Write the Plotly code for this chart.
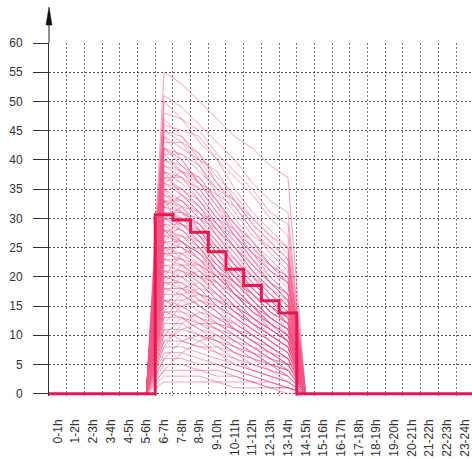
import plotly.graph_objects as go

hour_labels = ["0-1h", "1-2h", "2-3h", "3-4h", "4-5h", "5-6h", "6-7h", "7-8h", "8-9h",
               "9-10h", "10-11h", "11-12h", "12-13h", "13-14h", "14-15h", "15-16h",
               "16-17h", "17-18h", "18-19h", "19-20h", "20-21h", "21-22h", "22-23h", "23-24h"]

# mean profile (bold step line), one value per hour slot
mean_values = [0, 0, 0, 0, 0, 0, 30.6, 29.7, 27.6, 24.3, 21.3, 18.5, 15.9, 13.8,
               0, 0, 0, 0, 0, 0, 0, 0, 0, 0]

# individual profiles: values for slots 6-7h ... 13-14h (all other slots are 0)
active_start = 6
profiles = [
    [55, 53, 50, 47, 44, 42, 39, 37],
    [51, 49, 46, 43, 40, 36, 33, 31],
    [50, 47, 45, 41, 38, 35, 31, 29],
    [48, 47, 43, 40, 37, 34, 30, 27],
    [46, 45, 44, 40, 35, 31, 28, 25],
    [45, 44, 41, 37, 34, 30, 27, 24],
    [44, 42, 40, 38, 33, 29, 26, 23],
    [43, 43, 41, 36, 32, 28, 24, 21],
    [42, 41, 38, 35, 31, 27, 25, 22],
    [42, 40, 36, 32, 29, 26, 22, 19],
    [41, 41, 39, 34, 30, 26, 23, 20],
    [40, 39, 36, 33, 28, 24, 21, 18],
    [40, 38, 35, 31, 27, 23, 20, 17],
    [39, 38, 37, 33, 29, 25, 21, 19],
    [38, 37, 34, 30, 26, 23, 19, 16],
    [38, 36, 33, 29, 25, 21, 18, 15],
    [37, 37, 35, 31, 28, 24, 20, 17],
    [37, 35, 32, 28, 24, 20, 17, 14],
    [36, 35, 33, 29, 25, 22, 19, 16],
    [36, 34, 31, 27, 23, 20, 16, 13],
    [35, 35, 32, 28, 25, 21, 17, 15],
    [35, 33, 30, 26, 22, 19, 16, 13],
    [34, 33, 31, 27, 24, 21, 18, 15],
    [34, 32, 29, 25, 21, 18, 15, 12],
    [33, 33, 30, 27, 23, 19, 16, 14],
    [33, 32, 28, 24, 21, 17, 14, 12],
    [33, 31, 29, 26, 22, 20, 17, 14],
    [32, 31, 28, 24, 20, 17, 15, 12],
    [32, 30, 27, 23, 20, 16, 13, 11],
    [31, 31, 29, 25, 22, 18, 15, 13],
    [31, 30, 27, 23, 19, 16, 13, 10],
    [31, 29, 26, 22, 19, 17, 14, 12],
    [30, 30, 28, 24, 21, 18, 15, 13],
    [30, 29, 26, 22, 18, 15, 12, 10],
    [30, 28, 25, 21, 19, 16, 13, 11],
    [29, 29, 27, 23, 20, 17, 14, 12],
    [29, 28, 25, 21, 17, 14, 12, 9],
    [28, 28, 26, 23, 19, 16, 13, 11],
    [28, 27, 24, 20, 17, 15, 12, 10],
    [28, 26, 23, 20, 18, 15, 11, 9],
    [27, 27, 25, 21, 18, 15, 12, 10],
    [27, 26, 23, 19, 16, 13, 11, 9],
    [26, 26, 24, 21, 17, 14, 12, 10],
    [26, 25, 22, 18, 15, 13, 10, 8],
    [25, 25, 23, 20, 17, 14, 11, 9],
    [25, 24, 21, 18, 15, 12, 10, 8],
    [24, 24, 22, 19, 16, 13, 11, 9],
    [24, 23, 20, 17, 14, 12, 9, 7],
    [23, 23, 21, 18, 15, 12, 10, 8],
    [23, 22, 19, 16, 14, 11, 9, 7],
    [22, 22, 20, 17, 14, 12, 10, 8],
    [22, 21, 18, 15, 13, 10, 8, 6],
    [21, 21, 19, 16, 13, 11, 9, 7],
    [21, 20, 17, 15, 12, 10, 8, 6],
    [20, 20, 18, 15, 13, 11, 9, 7],
    [20, 19, 16, 14, 11, 9, 7, 5],
    [19, 19, 17, 14, 12, 10, 8, 6],
    [19, 18, 15, 13, 11, 9, 7, 5],
    [18, 18, 16, 14, 11, 9, 7, 6],
    [18, 17, 15, 12, 10, 8, 6, 5],
    [17, 17, 15, 13, 11, 9, 7, 5],
    [16, 16, 14, 12, 10, 8, 6, 4],
    [16, 15, 13, 11, 9, 7, 6, 4],
    [15, 15, 13, 11, 9, 7, 5, 4],
    [14, 14, 12, 10, 8, 7, 5, 3],
    [14, 13, 11, 10, 8, 6, 5, 3],
    [13, 13, 11, 9, 7, 6, 4, 3],
    [12, 12, 10, 9, 7, 5, 4, 3],
    [11, 11, 10, 8, 6, 5, 4, 2],
    [10, 10, 9, 7, 6, 4, 3, 2],
    [9, 9, 8, 7, 5, 4, 3, 2],
    [8, 8, 7, 6, 5, 4, 3, 2],
    [7, 7, 6, 5, 4, 3, 2, 1],
    [6, 6, 5, 5, 4, 3, 2, 1],
    [5, 5, 4, 4, 3, 2, 2, 1],
    [4, 4, 4, 3, 3, 2, 1, 1],
    [3, 3, 3, 2, 2, 2, 1, 1],
    [2, 2, 2, 2, 1, 1, 1, 0],
    [45, 43, 39, 35, 33, 30, 27, 25],
    [39, 37, 33, 30, 27, 24, 22, 20],
    [12, 15, 16, 15, 13, 11, 9, 7],
    [8, 12, 14, 13, 12, 10, 8, 6],
    [15, 18, 19, 17, 14, 12, 10, 8],
    [20, 24, 25, 22, 19, 16, 13, 11],
    [26, 29, 28, 25, 22, 19, 16, 13],
    [4, 7, 9, 10, 9, 8, 6, 5],
    [30, 32, 31, 28, 25, 21, 18, 15],
    [10, 13, 12, 11, 10, 8, 7, 5],
    [44, 40, 36, 34, 32, 28, 25, 22],
    [36, 38, 36, 32, 27, 23, 19, 17],
    [33, 29, 27, 25, 23, 20, 18, 16],
    [27, 30, 29, 26, 22, 18, 15, 12],
    [24, 27, 26, 23, 20, 17, 14, 11],
    [29, 26, 24, 22, 20, 18, 15, 13],
    [19, 22, 22, 20, 17, 14, 12, 9],
    [17, 20, 21, 19, 16, 13, 11, 9],
    [13, 16, 17, 16, 14, 12, 10, 8],
    [21, 18, 17, 16, 15, 13, 11, 9],
    [25, 22, 20, 19, 17, 15, 13, 11],
    [38, 34, 31, 29, 27, 24, 21, 19],
    [41, 38, 34, 30, 28, 25, 22, 20],
    [47, 44, 40, 36, 33, 29, 26, 23],
    [32, 34, 32, 29, 26, 22, 19, 16],
    [23, 26, 24, 21, 18, 15, 12, 10],
    [18, 21, 20, 18, 15, 12, 10, 8],
    [14, 17, 18, 17, 15, 13, 11, 9],
    [9, 11, 12, 12, 11, 9, 8, 6],
    [6, 9, 10, 9, 8, 7, 5, 4],
    [35, 31, 30, 28, 25, 22, 19, 17],
    [28, 25, 23, 21, 19, 17, 14, 12],
    [16, 14, 13, 12, 11, 10, 8, 6],
    [11, 9, 8, 8, 7, 6, 5, 4],
    [42, 39, 37, 33, 29, 26, 22, 19],
    [26, 23, 22, 20, 17, 15, 13, 11],
]

y_ticks = [0, 5, 10, 15, 20, 25, 30, 35, 40, 45, 50, 55, 60]

n = len(hour_labels)
centers = list(range(n))
edges = [i - 0.5 for i in range(n + 1)]

fig = go.Figure()

for prof in profiles:
    full = [0] * active_start + prof + [0] * (n - active_start - len(prof))
    fig.add_trace(go.Scatter(
        x=centers, y=full, mode="lines",
        line=dict(color="rgba(240,85,135,0.55)", width=1),
        hoverinfo="skip", showlegend=False))

fig.add_trace(go.Scatter(
    x=edges, y=mean_values + [mean_values[-1]], mode="lines",
    line=dict(color="#E8174F", width=3, shape="hv"),
    showlegend=False))

font_family = "Liberation Sans, Arial, sans-serif"

fig.update_layout(
    width=472, height=459,
    margin=dict(l=49, r=0, t=43, b=63),
    paper_bgcolor="white", plot_bgcolor="white",
    font=dict(family=font_family, size=12, color="#333333"),
    xaxis=dict(
        range=[-0.5, 23.4], automargin=False,
        tickmode="array", tickvals=centers, ticktext=hour_labels,
        tickangle=-90, ticks="", showgrid=False, zeroline=False,
        showline=False, ticklabelstandoff=20,
        tickfont=dict(size=12, color="#333333"),
        minor=dict(tickmode="array", tickvals=edges, showgrid=True,
                   gridcolor="#777777", griddash="2px,2px", gridwidth=1, ticks=""),
    ),
    yaxis=dict(
        range=[-0.4, 60], automargin=False,
        tickmode="array", tickvals=y_ticks,
        ticks="outside", ticklen=15, tickcolor="#333333", tickwidth=1,
        showgrid=True, gridcolor="#555555", griddash="2px,2px", gridwidth=1,
        zeroline=False, showline=True, linecolor="#333333", linewidth=1,
        ticklabelstandoff=8,
        tickfont=dict(size=12, color="#333333"),
    ),
    shapes=[
        # y-axis extension above the plot area, ending in a filled arrowhead
        dict(type="path", xref="paper", yref="paper", xsizemode="pixel",
             ysizemode="pixel", xanchor=0, yanchor=1,
             path="M 0 0 L 0 20", line=dict(color="#222222", width=1)),
        dict(type="path", xref="paper", yref="paper", xsizemode="pixel",
             ysizemode="pixel", xanchor=0, yanchor=1,
             path="M -3 18 L 3 18 L 0 36 Z", fillcolor="#111111",
             line=dict(color="#111111", width=0.5)),
    ],
)

fig.write_html("out.html", config={"displayModeBar": False},
               post_script="document.body.style.margin='0';")
